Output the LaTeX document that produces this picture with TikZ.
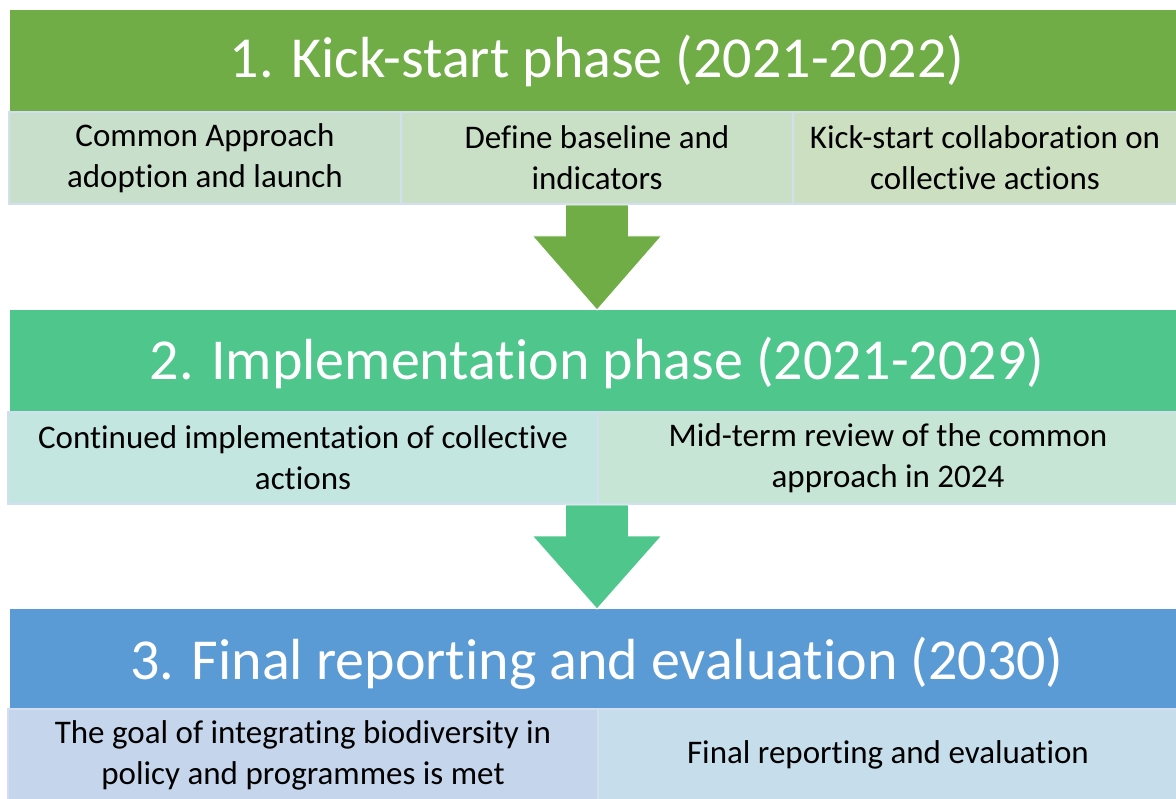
\documentclass[tikz,border=0pt]{standalone}
\usepackage{fontspec}
\setmainfont[Ligatures=NoCommon]{Carlito}
\usetikzlibrary{calc}
\definecolor{hOne}{HTML}{70AD47}
\definecolor{hTwo}{HTML}{4EC68C}
\definecolor{hThree}{HTML}{5B9BD5}
\definecolor{cA}{HTML}{C8E0CB}
\definecolor{cB}{HTML}{C9E0C7}
\definecolor{cC}{HTML}{CCDFC1}
\definecolor{cD}{HTML}{C3E6E0}
\definecolor{cE}{HTML}{C6E5D5}
\definecolor{cF}{HTML}{C5D5EC}
\definecolor{cG}{HTML}{C6DDEB}
\definecolor{cellline}{HTML}{D3DEF0}
\begin{document}
\begin{tikzpicture}[x=1pt,y=-1pt,
  hdr/.style={anchor=north west, inner sep=0pt, outer sep=0pt, minimum height=102pt},
  htext/.style={anchor=base, text=white, font=\fontsize{58}{70}\selectfont, inner sep=0pt},
  cell/.style={anchor=north west, inner sep=0pt, outer sep=0pt, draw=cellline, line width=1.5pt, align=center,
     font=\fontsize{33}{41}\selectfont, text=black},
  arr/.style={draw=white, line width=0.8pt}
]
\useasboundingbox (0,0) rectangle (1176,799);
\fill[white] (0,0) rectangle (1176,799);
% phase 1
\node[hdr, fill=hOne, minimum width=1166pt] (h1) at (10,10) {};
\node[htext] (t1) at (597,78) {1. Kick-start phase (2021-2022)};
\node[cell, fill=cA, minimum width=392pt, minimum height=92pt] (c11) at (9,112) {Common Approach\\adoption and launch};
\node[cell, fill=cB, minimum width=392pt, minimum height=92pt] (c12) at (401,112) {Define baseline and\\indicators};
\node[cell, fill=cC, minimum width=384pt, minimum height=92pt] (c13) at (793,112) {Kick-start collaboration on\\collective actions};
% phase 2
\node[hdr, fill=hTwo, minimum width=1166pt] (h2) at (10,310) {};
\node[htext] (t2) at (597,380) {2. Implementation phase (2021-2029)};
\node[cell, fill=cD, minimum width=590pt, minimum height=92pt] (c21) at (8,412) {Continued implementation of collective\\actions};
\node[cell, fill=cE, minimum width=580pt, minimum height=92pt] (c22) at (598,412) {Mid-term review of the common\\approach in 2024};
% phase 3
\node[hdr, fill=hThree, minimum width=1166pt] (h3) at (10,609) {};
\node[htext] (t3) at (597,679) {3. Final reporting and evaluation (2030)};
\node[cell, fill=cF, minimum width=590pt, minimum height=92pt] (c31) at (8,709) {The goal of integrating biodiversity in\\policy and programmes is met};
\node[cell, fill=cG, minimum width=580pt, minimum height=92pt] (c32) at (598,709) {Final reporting and evaluation};
% arrows
\coordinate (a1s) at ($(c12.south)+(0,1)$);
\coordinate (a1e) at (h2.north -| a1s);
\fill[hOne, arr] ($(a1s)+(-31.5,0)$) -- ($(a1s)+(31.5,0)$) -- ($(a1s)+(31.5,31)$) -- ($(a1s)+(64.5,31)$)
   -- (a1e) -- ($(a1s)+(-64.5,31)$) -- ($(a1s)+(-31.5,31)$) -- cycle;
\coordinate (a2s) at ($(c22.south west)+(-1,1)$);
\coordinate (a2e) at (h3.north -| a2s);
\fill[hTwo, arr] ($(a2s)+(-31.5,0)$) -- ($(a2s)+(31.5,0)$) -- ($(a2s)+(31.5,31)$) -- ($(a2s)+(64.5,31)$)
   -- (a2e) -- ($(a2s)+(-64.5,31)$) -- ($(a2s)+(-31.5,31)$) -- cycle;
\end{tikzpicture}
\end{document}
